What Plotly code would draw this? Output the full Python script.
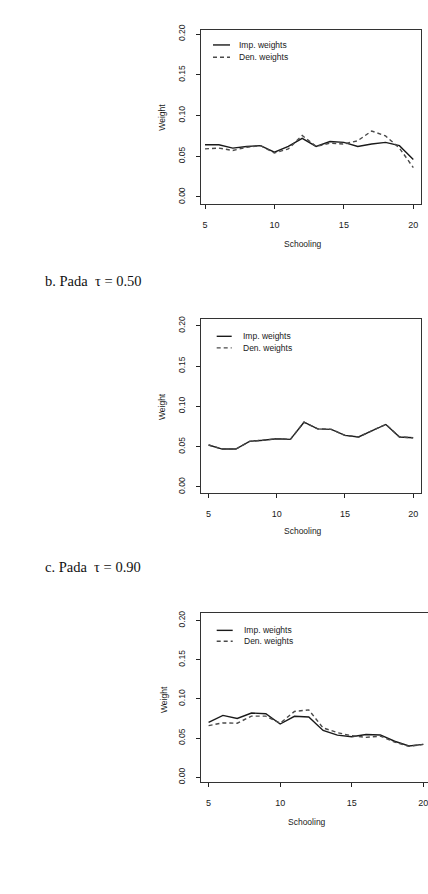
import plotly.graph_objects as go

# ---------------- data ----------------
schooling = [5, 6, 7, 8, 9, 10, 11, 12, 13, 14, 15, 16, 17, 18, 19, 20]

# panel a (top)
imp_a = [0.064, 0.064, 0.060, 0.062, 0.063, 0.055, 0.062, 0.072, 0.062, 0.068, 0.067, 0.062, 0.065, 0.067, 0.063, 0.046]
den_a = [0.059, 0.060, 0.057, 0.061, 0.063, 0.054, 0.059, 0.0755, 0.062, 0.066, 0.065, 0.069, 0.081, 0.075, 0.060, 0.036]

# panel b (tau = 0.50)
imp_b = [0.052, 0.047, 0.047, 0.0566, 0.058, 0.0598, 0.059, 0.0803, 0.072, 0.0715, 0.064, 0.062, 0.070, 0.0775, 0.062, 0.061]
den_b = [0.052, 0.047, 0.047, 0.0566, 0.058, 0.0598, 0.059, 0.0803, 0.072, 0.0715, 0.064, 0.062, 0.070, 0.0775, 0.062, 0.061]

# panel c (tau = 0.90)
imp_c = [0.070, 0.079, 0.075, 0.082, 0.081, 0.068, 0.0778, 0.077, 0.0597, 0.0538, 0.0518, 0.0547, 0.054, 0.046, 0.040, 0.042]
den_c = [0.066, 0.0694, 0.069, 0.078, 0.078, 0.069, 0.084, 0.086, 0.063, 0.057, 0.053, 0.051, 0.0525, 0.045, 0.0395, 0.042]

x_ticks = [5, 10, 15, 20]
y_ticks = [0.00, 0.05, 0.10, 0.15, 0.20]
y_tick_text = ["0.00", "0.05", "0.10", "0.15", "0.20"]
legend_labels = ["Imp. weights", "Den. weights"]
panel_titles = ["b. Pada  \u03c4 = 0.50", "c. Pada  \u03c4 = 0.90"]

# ---------------- layout helpers ----------------
W, H = 428, 894
def px(x):
    return x / W
def py(y):
    return 1 - y / H

FONT = "Liberation Sans, Arial, sans-serif"
TXT = "#1a1a1a"
SOLID = dict(color="#1a1a1a", width=1.4)
DASH = dict(color="#4a4a4a", width=1.4, dash="4px,3px")

panels = [
    dict(l=201, r=421, t=24, b=200, xr=[4.712, 20.554], yr=[-0.0089, 0.2052],
         imp=imp_a, den=den_a, mirror_y=True,
         leg=(213, 230, 237, 39.3, 51.7), wt=(161.7, 112), sc=(303, 240)),
    dict(l=201, r=420.5, t=316, b=491.7, xr=[4.444, 20.54], yr=[-0.0079, 0.2082],
         imp=imp_b, den=den_b, mirror_y=True,
         leg=(216.7, 231.7, 240.7, 333.3, 345), wt=(162.7, 404), sc=(303, 530)),
    dict(l=201, r=428, t=612.7, b=783.3, xr=[4.47, 20.33], yr=[-0.0063, 0.2092],
         imp=imp_c, den=den_c, mirror_y=False,
         leg=(216.7, 232.7, 241.7, 630, 641), wt=(163.3, 700), sc=(306.7, 823.3)),
]

fig = go.Figure()
layout = dict(
    width=W, height=H, margin=dict(l=0, r=0, t=0, b=0),
    paper_bgcolor="white", plot_bgcolor="white", showlegend=False,
    font=dict(family=FONT, size=8, color=TXT),
)
annotations = []
shapes = []

for i, p in enumerate(panels):
    n = "" if i == 0 else str(i + 1)
    xa, ya = "x" + n, "y" + n
    fig.add_trace(go.Scatter(x=schooling, y=p["imp"], mode="lines", line=SOLID,
                             xaxis=xa, yaxis=ya, name=legend_labels[0]))
    fig.add_trace(go.Scatter(x=schooling, y=p["den"], mode="lines", line=DASH,
                             xaxis=xa, yaxis=ya, name=legend_labels[1]))
    layout["xaxis" + n] = dict(
        domain=[px(p["l"]), px(p["r"])], range=p["xr"], anchor=ya,
        tickvals=x_ticks, ticks="outside", ticklen=4, tickwidth=1, tickcolor="#222",
        showline=True, linecolor="#333", linewidth=1.2, mirror=True,
        showgrid=False, zeroline=False, ticklabelstandoff=8,
        ticklabeloverflow="allow",
        tickfont=dict(family=FONT, size=9, color=TXT),
    )
    layout["yaxis" + n] = dict(
        domain=[py(p["b"]), py(p["t"])], range=p["yr"], anchor=xa,
        tickvals=y_ticks, ticktext=y_tick_text, tickangle=-90,
        ticks="outside", ticklen=4, tickwidth=1, tickcolor="#222",
        showline=True, linecolor="#333", linewidth=1.2, mirror=p["mirror_y"],
        showgrid=False, zeroline=False, ticklabelstandoff=8,
        ticklabeloverflow="allow",
        tickfont=dict(family=FONT, size=8.5, color=TXT),
    )
    x0, x1, xt, r1, r2 = p["leg"]
    shapes.append(dict(type="line", xref="paper", yref="paper", x0=px(x0), x1=px(x1),
                       y0=py(r1), y1=py(r1), line=SOLID))
    shapes.append(dict(type="line", xref="paper", yref="paper", x0=px(x0), x1=px(x1),
                       y0=py(r2), y1=py(r2), line=DASH))
    for lab, rr in zip(legend_labels, (r1, r2)):
        annotations.append(dict(text=lab, xref="paper", yref="paper", x=px(xt), y=py(rr),
                                xanchor="left", yanchor="middle", showarrow=False,
                                font=dict(family=FONT, size=8.5, color=TXT)))
    annotations.append(dict(text="Weight", xref="paper", yref="paper",
                            x=px(p["wt"][0]), y=py(p["wt"][1]), textangle=-90,
                            xanchor="center", yanchor="middle", showarrow=False,
                            font=dict(family=FONT, size=8.5, color=TXT)))
    annotations.append(dict(text="Schooling", xref="paper", yref="paper",
                            x=px(p["sc"][0]), y=py(p["sc"][1]),
                            xanchor="center", yanchor="middle", showarrow=False,
                            font=dict(family=FONT, size=8.5, color=TXT)))

for title, (tx, ty) in zip(panel_titles, [(42.7, 277), (42.7, 566)]):
    annotations.append(dict(text=title, xref="paper", yref="paper", x=px(tx), y=py(ty),
                            xanchor="left", yanchor="middle", showarrow=False,
                            font=dict(family="Liberation Serif, Times New Roman, serif",
                                      size=14.5, color="#111")))

layout["annotations"] = annotations
layout["shapes"] = shapes
fig.update_layout(**layout)
fig.write_html("out.html")
